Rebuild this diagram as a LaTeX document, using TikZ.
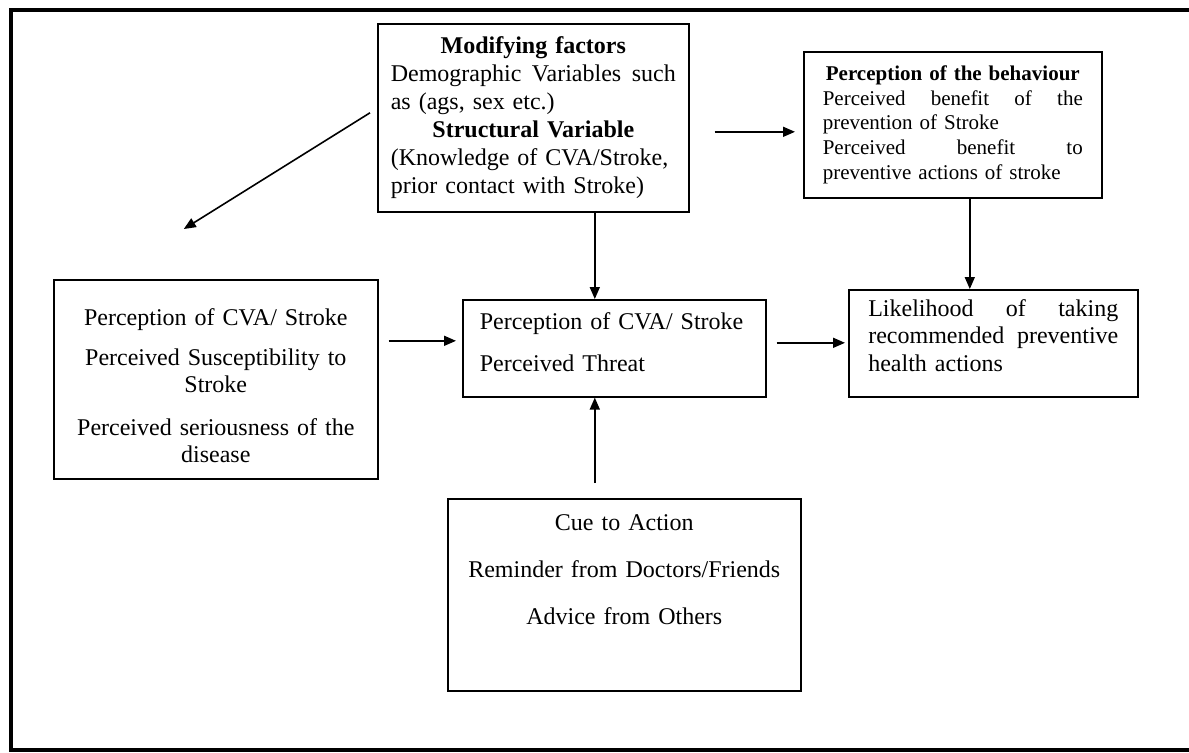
\documentclass[tikz,border=0pt]{standalone}
\usepackage{fontspec}
\setmainfont{Liberation Serif}
\usetikzlibrary{arrows.meta,positioning}
\setlength{\parindent}{0pt}
\newcommand{\fullline}[1]{\leavevmode\hbox to\hsize{#1}}
\tikzset{
  box/.style={draw,line width=0.8pt,anchor=north west,inner sep=0pt,
    font=\fontsize{12}{13.5}\selectfont},
  smallbox/.style={box,font=\fontsize{10.5}{12.3}\selectfont},
  arr/.style={-{Triangle[length=6pt,width=5pt]},line width=0.8pt},
  frame/.style={line width=1.6pt},
}
\begin{document}
\begin{tikzpicture}[x=0.5pt,y=-0.5pt]
\useasboundingbox (0,0) rectangle (1189,752);
\draw[frame] (1195,10) -| (11,750) -- (1195,750);

% boxes
\node[box,minimum width=155.5pt,minimum height=94pt,text width=142.5pt,align=left,
  font=\fontsize{12}{14}\selectfont] (mod) at (377,23) {%
  \fullline{\hfil\textbf{Modifying factors}\hfil}\\
  \fullline{Demographic\hfil Variables\hfil such}\\
  as (ags, sex etc.)\\
  \fullline{\hfil\textbf{Structural Variable}\hfil}\\
  (Knowledge of CVA/Stroke,\\
  prior contact with Stroke)};
\node[smallbox,minimum width=149pt,minimum height=73pt,text width=130pt,align=left] (beh) at (803,51) {%
  \fullline{\hfil\textbf{Perception of the behaviour}\hfil}\\
  \fullline{Perceived\hfil benefit\hfil of\hfil the}\\
  prevention of Stroke\\
  \fullline{Perceived\hfil benefit\hfil to}\\
  preventive actions of stroke};
\node[box,minimum width=162pt,minimum height=99.5pt,text width=150pt,align=center] (perc) at (53,279) {%
  \rule{0pt}{15pt}Perception of CVA/ Stroke\\[6.5pt]
  Perceived Susceptibility to\\
  Stroke\\[8pt]
  Perceived seriousness of the\\
  disease};
\node[box,minimum width=151.5pt,minimum height=48.5pt,text width=134.5pt,align=left] (mid) at (462,299) {%
  Perception of CVA/ Stroke\\[7.5pt]
  Perceived Threat\\[-7pt]\mbox{}};
\node[box,minimum width=144.5pt,minimum height=53.5pt,text width=125pt,align=left,
  font=\fontsize{12}{13.75}\selectfont] (like) at (848,289) {%
  \fullline{Likelihood\hfil of\hfil taking}\\
  \fullline{recommended\hfil preventive}\\
  health actions\\[-5.5pt]\mbox{}};
\node[box,minimum width=176.5pt,minimum height=96pt,text width=170pt,align=center] (cue) at (447,498) {%
  Cue to Action\\[10pt]
  Reminder from Doctors/Friends\\[10pt]
  Advice from Others\\[12pt]\mbox{}};

% arrows
\draw[arr] ([xshift=-3.5pt,yshift=2.5pt]mod.west) -- ([xshift=-16pt,yshift=25pt]perc.north);
\draw[arr] ([xshift=30.75pt]mod.south) -- ([xshift=-9.75pt]mid.north);
\draw[arr] ([xshift=12.5pt,yshift=-7pt]mod.east) -- ([xshift=-4pt,yshift=-3.5pt]beh.west);
\draw[arr] ([xshift=8.5pt]beh.south) -- ([xshift=-11.75pt]like.north);
\draw[arr] ([xshift=5pt,yshift=19.25pt]perc.east) -- ([xshift=-3pt,yshift=3.75pt]mid.west);
\draw[arr] ([xshift=5pt,yshift=2.75pt]mid.east) -- ([xshift=-1.5pt,yshift=0.25pt]like.west);
\draw[arr] ([xshift=-14.75pt,yshift=7.5pt]cue.north) -- ([xshift=-9.75pt]mid.south);
\end{tikzpicture}
\end{document}
